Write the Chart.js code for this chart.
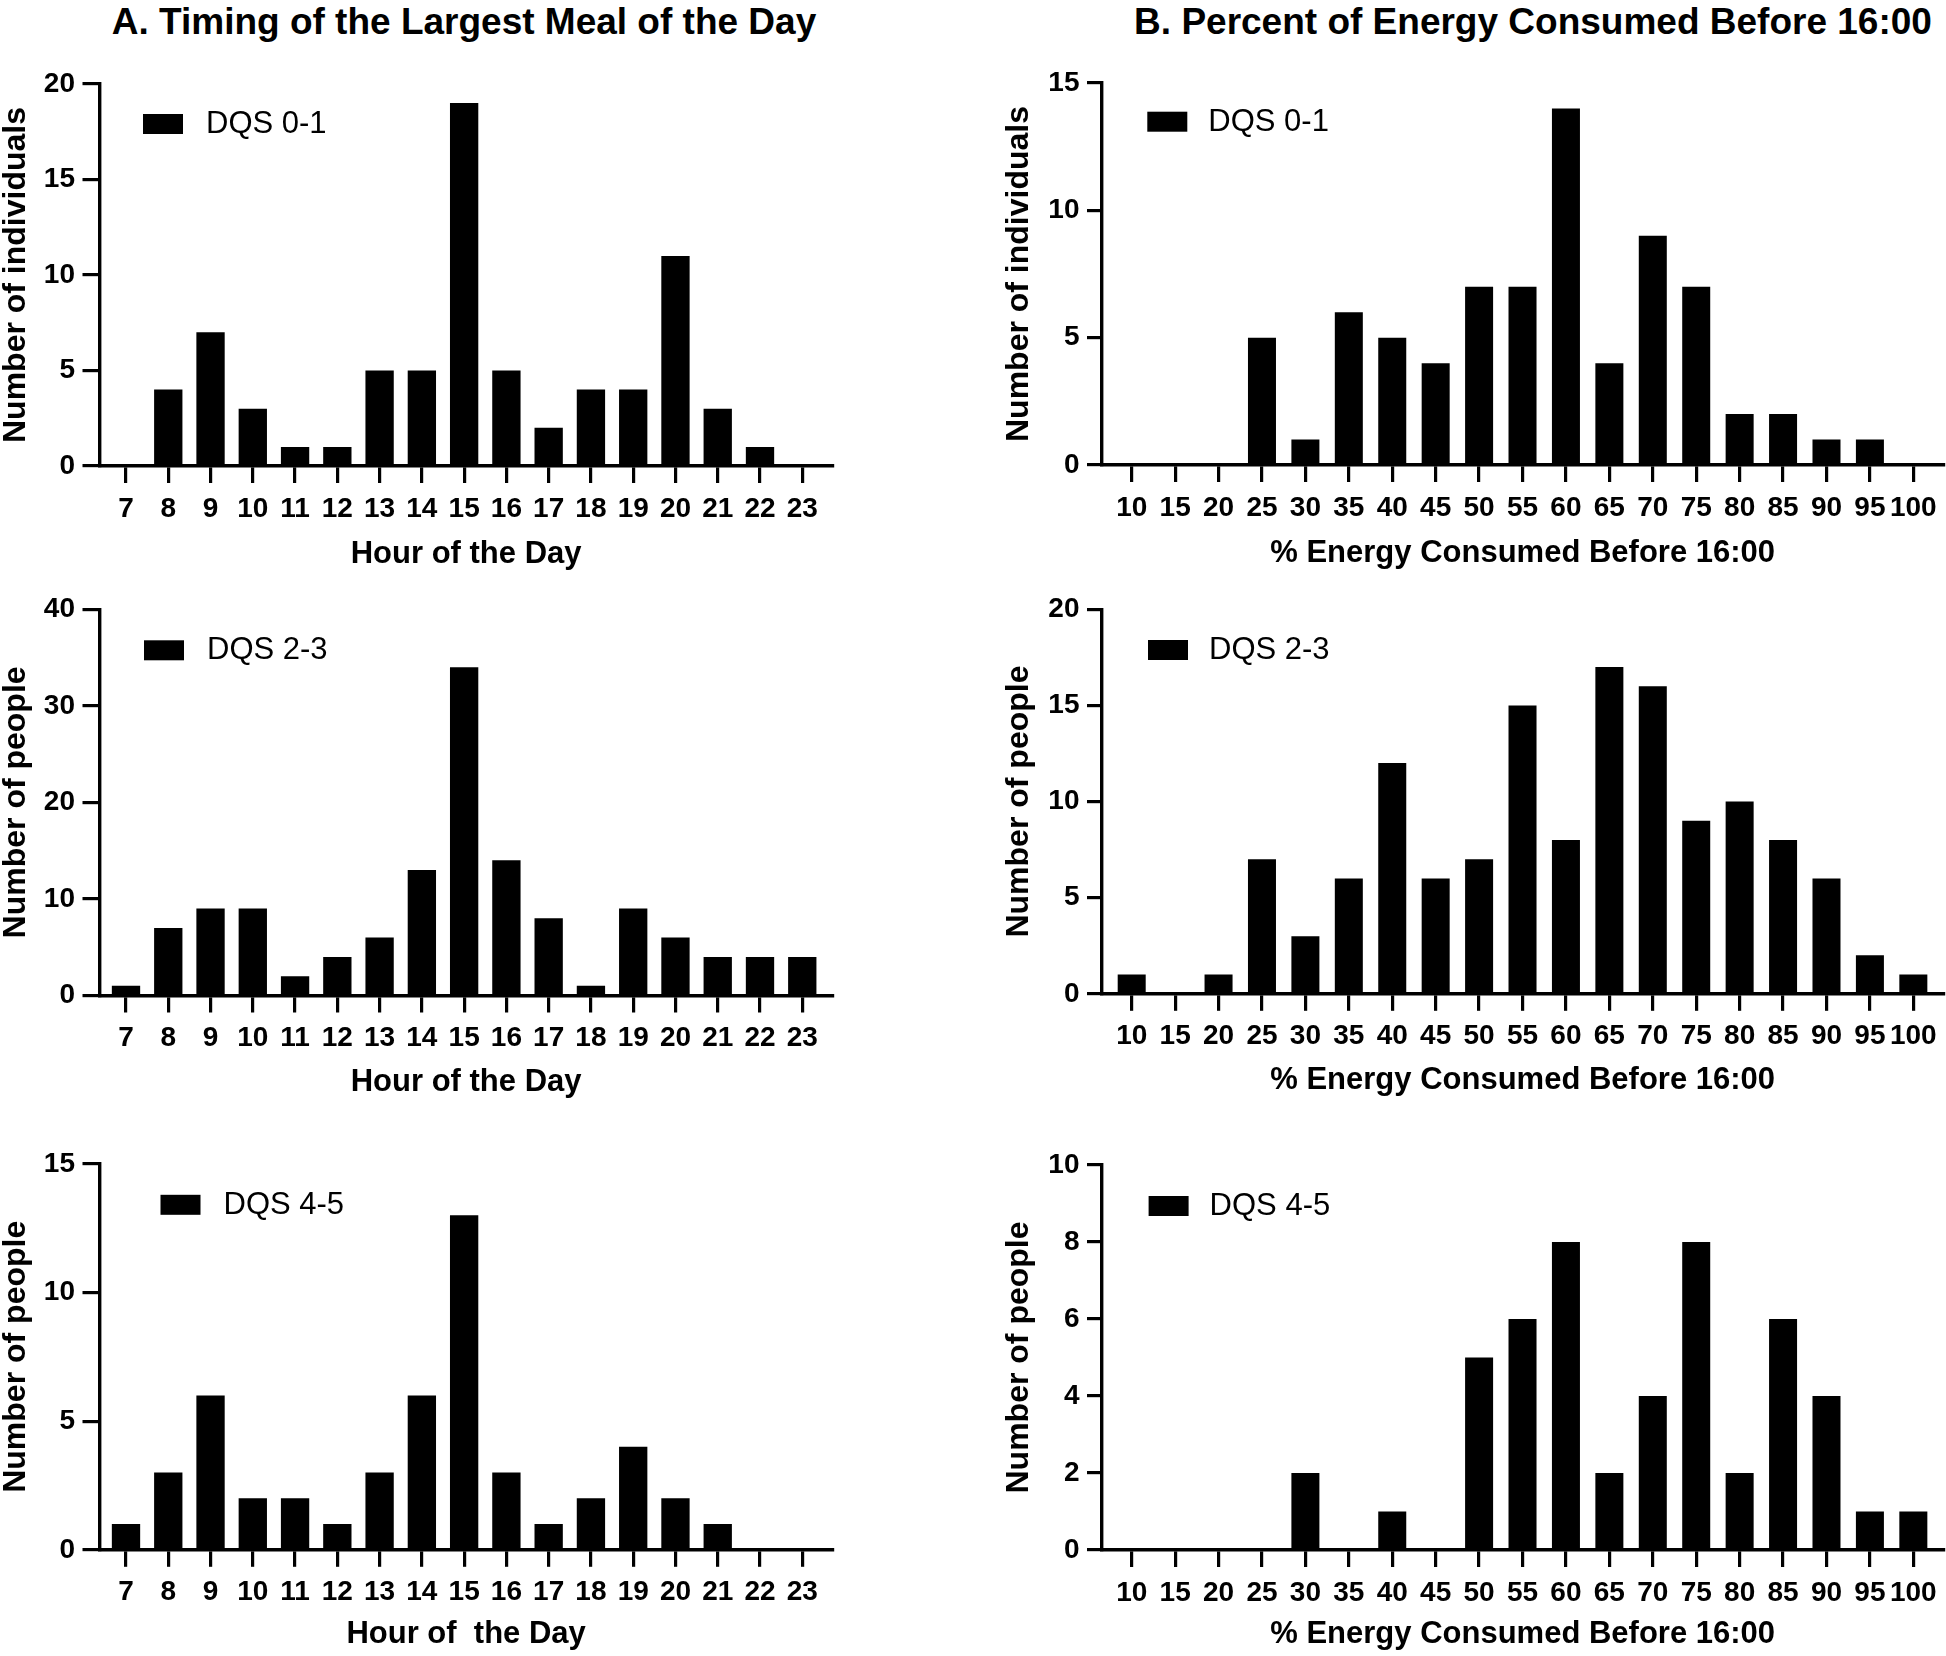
<!DOCTYPE html>
<html><head><meta charset="utf-8">
<script src="https://cdn.jsdelivr.net/npm/chart.js@4.4.1/dist/chart.umd.min.js"></script>
<style>
html,body{margin:0;padding:0;background:#fff;}
body{width:1946px;height:1656px;position:relative;overflow:hidden;}
canvas{position:absolute;}
.ttl{position:absolute;top:3px;width:1000px;text-align:center;font:bold 37px/37px 'Liberation Sans',Arial,sans-serif;color:#000;white-space:nowrap;}
</style></head><body>
<div class="ttl" style="left:-36px">A. Timing of the Largest Meal of the Day</div>
<div class="ttl" style="left:1033px">B. Percent of Energy Consumed Before 16:00</div>
<canvas id="a1"></canvas><canvas id="a2"></canvas><canvas id="a3"></canvas>
<canvas id="b1"></canvas><canvas id="b2"></canvas><canvas id="b3"></canvas>
<script>
// ---- data ----
const hours = [7,8,9,10,11,12,13,14,15,16,17,18,19,20,21,22,23];
const pctBins = [10,15,20,25,30,35,40,45,50,55,60,65,70,75,80,85,90,95,100];
const mealDqs01 = [0,4,7,3,1,1,5,5,19,5,2,4,4,11,3,1,0];
const mealDqs23 = [1,7,9,9,2,4,6,13,34,14,8,1,9,6,4,4,4];
const mealDqs45 = [1,3,6,2,2,1,3,6,13,3,1,2,4,2,1,0,0];
const energyDqs01 = [0,0,0,5,1,6,5,4,7,7,14,4,9,7,2,2,1,1,0];
const energyDqs23 = [1,0,1,7,3,6,12,6,7,15,8,17,16,9,10,8,6,2,1];
const energyDqs45 = [0,0,0,0,2,0,1,0,5,6,8,2,4,8,2,6,4,1,1];
const yTicksA1 = [0,5,10,15,20];
const yTicksA2 = [0,10,20,30,40];
const yTicksA3 = [0,5,10,15];
const yTicksB1 = [0,5,10,15];
const yTicksB2 = [0,5,10,15,20];
const yTicksB3 = [0,2,4,6,8,10];
const seriesNames = ['DQS 0-1','DQS 2-3','DQS 4-5'];
const yTitles = ['Number of individuals','Number of people','Number of people'];
const xTitlesA = ['Hour of the Day','Hour of the Day','Hour of  the Day'];
const xTitleB = '% Energy Consumed Before 16:00';

// ---- drawing ----
const FAM = "'Liberation Sans', Arial, sans-serif";
const XH = 100;
const boxLegend = {
  id:'boxLegend',
  afterDraw(chart, args, o){
    const {ctx, chartArea} = chart;
    const ds = chart.data.datasets[0];
    const x = chartArea.left + o.dx, y = chartArea.top + o.dy;
    ctx.save();
    ctx.fillStyle = ds.backgroundColor;
    ctx.fillRect(x, y, 40, 20);
    ctx.fillStyle = '#000';
    ctx.font = '31px ' + FAM;
    ctx.textBaseline = 'middle';
    ctx.textAlign = 'left';
    ctx.fillText(ds.label, x + 40 + o.gap, y + 10.5);
    ctx.restore();
  }
};

const colA = {left:0, w:860, yW:99.5, padR:27.3, xMin:6.373, xMax:23.72, barPct:0.67, yTickLen:17, gap:23};
const colB = {left:1003, w:943, yW:99, padR:2.7, xMin:6.58, xMax:103.45, barPct:0.645, yTickLen:15, gap:21};
const rows = [{top:0,h:580,tpb:-4},{top:540,h:580,tpb:-2},{top:1100,h:556,tpb:0}];

function panel(id, col, row, g){
  const cv = document.getElementById(id);
  cv.width = col.w; cv.height = row.h;
  cv.style.left = col.left + 'px'; cv.style.top = row.top + 'px';
  new Chart(cv, {
    type:'bar',
    data:{datasets:[{
      label:g.label,
      data:g.x.map((v,i)=>({x:v, y:g.y[i]})),
      backgroundColor:'#000', borderWidth:0,
      categoryPercentage:1, barPercentage:col.barPct
    }]},
    options:{
      responsive:false, animation:false, devicePixelRatio:1,
      layout:{padding:{left:0, right:col.padR, top:g.cTop - row.top, bottom:row.top + row.h - g.cBot - XH}},
      plugins:{legend:{display:false}, tooltip:{enabled:false}, title:{display:false},
        boxLegend:{dx:g.ldx, dy:g.ldy, gap:col.gap}},
      scales:{
        x:{
          type:'linear', offset:false, min:col.xMin, max:col.xMax,
          afterBuildTicks:s=>{ s.ticks = g.x.map(v=>({value:v})); },
          afterFit:s=>{ s.height = XH; s.paddingLeft = 0; s.paddingRight = 0; },
          grid:{display:true, offset:false, drawOnChartArea:false, drawTicks:true, tickLength:17, tickWidth:3.2, tickColor:'#000', color:'#000', lineWidth:3.2},
          border:{display:true, width:3.4, color:'#000'},
          ticks:{autoSkip:false, maxRotation:0, minRotation:0, padding:9, color:'#000',
            font:{family:FAM, size:28, weight:'bold'}, callback:v=>String(v)},
          title:{display:true, text:g.xTitle, color:'#000',
            font:{family:FAM, size:31, weight:'bold', lineHeight:1}, padding:{top:0, bottom:row.tpb}}
        },
        y:{
          type:'linear', min:0, max:g.yTicks[g.yTicks.length-1],
          afterBuildTicks:s=>{ s.ticks = g.yTicks.map(v=>({value:v})); },
          afterFit:s=>{ s.width = col.yW; s.paddingTop = 0; s.paddingBottom = 0; },
          grid:{display:true, drawOnChartArea:false, drawTicks:true, tickLength:col.yTickLen, tickWidth:3.2, tickColor:'#000', color:'#000', lineWidth:3.2},
          border:{display:true, width:3.4, color:'#000'},
          ticks:{padding:7.5, color:'#000', font:{family:FAM, size:28, weight:'bold'}, callback:v=>String(v)},
          title:{display:true, text:g.yTitle, color:'#000',
            font:{family:FAM, size:32, weight:'bold', lineHeight:1}, padding:{top:0, bottom:0}}
        }
      }
    },
    plugins:[boxLegend]
  });
}

panel('a1', colA, rows[0], {x:hours, y:mealDqs01, label:seriesNames[0], yTicks:yTicksA1, yTitle:yTitles[0], xTitle:xTitlesA[0], cTop:84, cBot:466, ldx:43.5, ldy:30});
panel('a2', colA, rows[1], {x:hours, y:mealDqs23, label:seriesNames[1], yTicks:yTicksA2, yTitle:yTitles[1], xTitle:xTitlesA[1], cTop:609.3, cBot:995.5, ldx:44.5, ldy:31});
panel('a3', colA, rows[2], {x:hours, y:mealDqs45, label:seriesNames[2], yTicks:yTicksA3, yTitle:yTitles[2], xTitle:xTitlesA[2], cTop:1163.8, cBot:1549.8, ldx:61, ldy:31});
panel('b1', colB, rows[0], {x:pctBins, y:energyDqs01, label:seriesNames[0], yTicks:yTicksB1, yTitle:yTitles[0], xTitle:xTitleB, cTop:83, cBot:465, ldx:45.3, ldy:28.7});
panel('b2', colB, rows[1], {x:pctBins, y:energyDqs23, label:seriesNames[1], yTicks:yTicksB2, yTitle:yTitles[1], xTitle:xTitleB, cTop:609.3, cBot:993.8, ldx:46, ldy:30.7});
panel('b3', colB, rows[2], {x:pctBins, y:energyDqs45, label:seriesNames[2], yTicks:yTicksB3, yTitle:yTitles[2], xTitle:xTitleB, cTop:1165, cBot:1550, ldx:46.6, ldy:31});
</script>
</body></html>
